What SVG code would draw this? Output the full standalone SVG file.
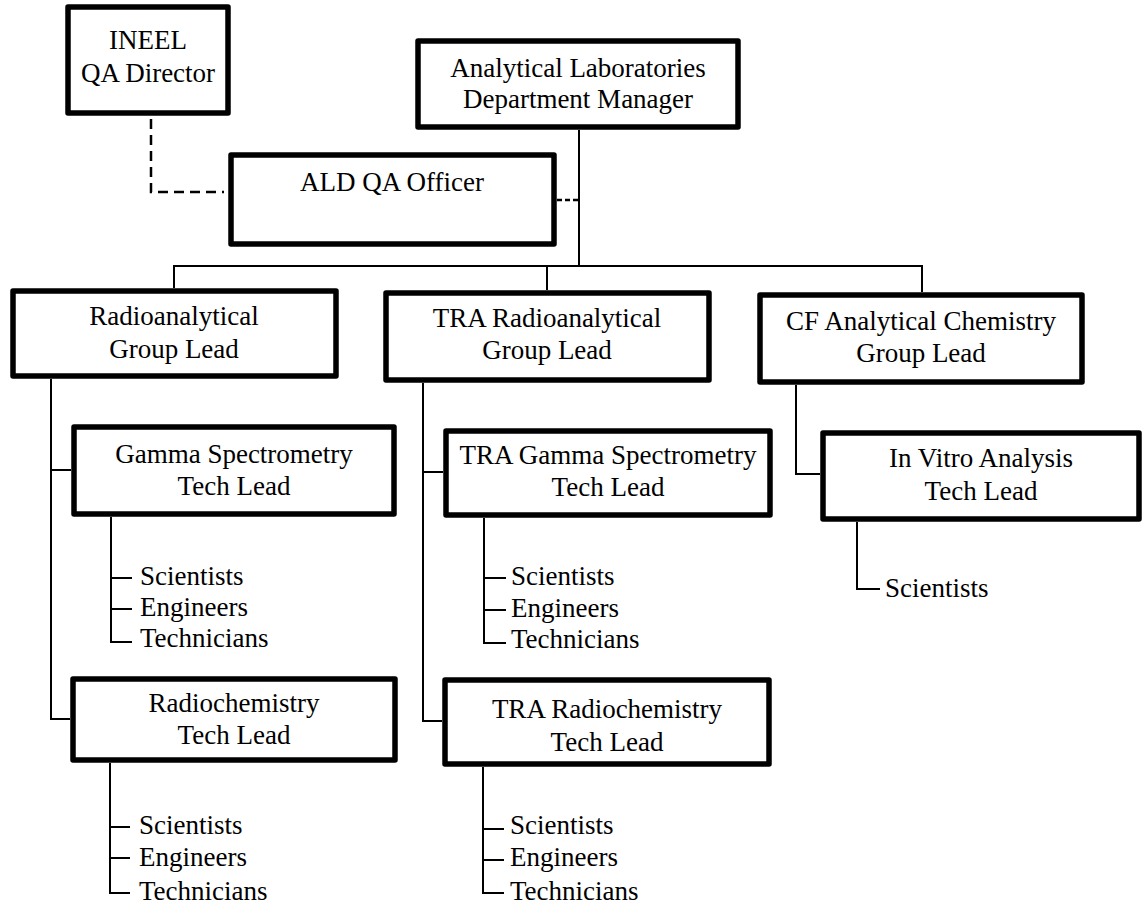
<svg xmlns="http://www.w3.org/2000/svg" width="1144" height="909" viewBox="0 0 1144 909">
<style>
.box{fill:#fff;stroke:#000;stroke-width:5.5;stroke-linejoin:round}
.t{font-family:"Liberation Serif","Times New Roman",serif;font-size:27px;fill:#000}
.c{text-anchor:middle}
.ln{fill:none;stroke:#000;stroke-width:2}
.dash{fill:none;stroke:#000;stroke-width:2.5;stroke-dasharray:10 6}
.dash2{fill:none;stroke:#000;stroke-width:2.5;stroke-dasharray:5 3}
</style>
<rect width="1144" height="909" fill="#fff"/>
<g id="connectors">
<path class="dash" d="M151 119 V192 H224"/>
<path class="dash2" d="M557 200 H579"/>
<path class="ln" d="M579 130 V267"/>
<path class="ln" d="M174 288 V266 H922 V292"/>
<path class="ln" d="M547 266 V290"/>
<path class="ln" d="M51 379 V719 H70"/>
<path class="ln" d="M51 470 H71"/>
<path class="ln" d="M111 517 V642 H132 M111 578 H132 M111 609 H132"/>
<path class="ln" d="M110 763 V893 H130 M110 827 H130 M110 858 H130"/>
<path class="ln" d="M423 383 V721 H442"/>
<path class="ln" d="M423 472 H443"/>
<path class="ln" d="M484 518 V643 H506 M484 578 H506 M484 610 H506"/>
<path class="ln" d="M483 767 V893 H504 M483 829 H504 M483 860 H504"/>
<path class="ln" d="M796 385 V474 H820"/>
<path class="ln" d="M857 522 V589 H880"/>
</g>
<g id="ineel-qa-director">
<rect class="box" x="68" y="7" width="160" height="106"/>
<text class="t c" x="148" y="49">INEEL</text>
<text class="t c" x="148" y="82">QA Director</text>
</g>
<g id="ald-qa-officer">
<rect class="box" x="231" y="155" width="323" height="89"/>
<text class="t c" x="392" y="191">ALD QA Officer</text>
</g>
<g id="dept-manager">
<rect class="box" x="418" y="41" width="320" height="86"/>
<text class="t c" x="578" y="77">Analytical Laboratories</text>
<text class="t c" x="578" y="108">Department Manager</text>
</g>
<g id="radioanalytical">
<rect class="box" x="13" y="291" width="323" height="85"/>
<text class="t c" x="174" y="325">Radioanalytical</text>
<text class="t c" x="174" y="358">Group Lead</text>
</g>
<g id="tra-radioanalytical">
<rect class="box" x="386" y="293" width="323" height="87"/>
<text class="t c" x="547" y="327">TRA Radioanalytical</text>
<text class="t c" x="547" y="359">Group Lead</text>
</g>
<g id="cf-analytical">
<rect class="box" x="760" y="295" width="322" height="87"/>
<text class="t c" x="921" y="330">CF Analytical Chemistry</text>
<text class="t c" x="921" y="362">Group Lead</text>
</g>
<g id="gamma">
<rect class="box" x="74" y="427" width="320" height="87"/>
<text class="t c" x="234" y="463">Gamma Spectrometry</text>
<text class="t c" x="234" y="495">Tech Lead</text>
</g>
<g id="gamma-staff">
<text class="t" x="140" y="585">Scientists</text>
<text class="t" x="140" y="616">Engineers</text>
<text class="t" x="140" y="647">Technicians</text>
</g>
<g id="radiochem">
<rect class="box" x="73" y="679" width="322" height="81"/>
<text class="t c" x="234" y="712">Radiochemistry</text>
<text class="t c" x="234" y="744">Tech Lead</text>
</g>
<g id="radiochem-staff">
<text class="t" x="139" y="834">Scientists</text>
<text class="t" x="139" y="866">Engineers</text>
<text class="t" x="139" y="900">Technicians</text>
</g>
<g id="tra-gamma">
<rect class="box" x="446" y="431" width="324" height="84"/>
<text class="t c" x="608" y="464">TRA Gamma Spectrometry</text>
<text class="t c" x="608" y="496">Tech Lead</text>
</g>
<g id="tra-gamma-staff">
<text class="t" x="511" y="585">Scientists</text>
<text class="t" x="511" y="617">Engineers</text>
<text class="t" x="511" y="648">Technicians</text>
</g>
<g id="tra-radiochem">
<rect class="box" x="445" y="680" width="324" height="84"/>
<text class="t c" x="607" y="718">TRA Radiochemistry</text>
<text class="t c" x="607" y="751">Tech Lead</text>
</g>
<g id="tra-radiochem-staff">
<text class="t" x="510" y="834">Scientists</text>
<text class="t" x="510" y="866">Engineers</text>
<text class="t" x="510" y="900">Technicians</text>
</g>
<g id="in-vitro">
<rect class="box" x="823" y="433" width="316" height="86"/>
<text class="t c" x="981" y="467">In Vitro Analysis</text>
<text class="t c" x="981" y="500">Tech Lead</text>
</g>
<g id="in-vitro-staff">
<text class="t" x="885" y="597">Scientists</text>
</g>
</svg>
